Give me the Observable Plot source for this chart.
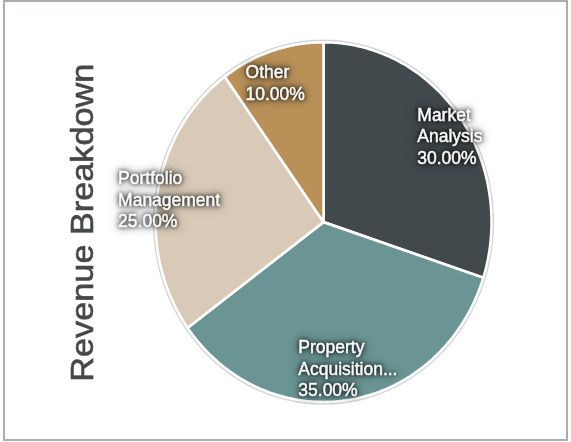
<!DOCTYPE html>
<html>
<head>
<meta charset="utf-8">
<script src="https://cdn.jsdelivr.net/npm/d3@7"></script>
<script src="https://cdn.jsdelivr.net/npm/@observablehq/plot@0.6"></script>
<style>
  html, body { margin: 0; padding: 0; background: #fff; }
  #outer { position: relative; width: 571px; height: 442px; overflow: hidden; }
  #frame { position: absolute; left: 3px; top: 0px; width: 565px; height: 441px; box-sizing: border-box; border: 2px solid #a9aeae; }
  #stretch { position: absolute; left: 0; top: 0; width: 571px; height: 413px; transform: scaleY(1.0705); transform-origin: 0 0; }
  #title { position: absolute; left: 82px; top: 207.5px; transform: translate(-50%, -50%) rotate(-90deg);
           font: 32px "Liberation Sans", Arial, sans-serif; color: #45484a; white-space: nowrap;
           -webkit-text-stroke: 0.6px #45484a; }
  #chart svg { display: block; }
  #chart g[aria-label="text"] { filter: drop-shadow(0 0 2px rgba(0,0,0,0.8)) drop-shadow(0 0 4px rgba(0,0,0,0.55)); }
</style>
</head>
<body>
<div id="outer">
  <div id="frame"></div>
  <div id="stretch">
    <div id="chart"></div>
    <div id="title"></div>
  </div>
</div>
<script>
const titleText = "Revenue Breakdown";
const categories = ["Market Analysis", "Property Acquisition", "Portfolio Management", "Other"];
const labelNames = ["Market\nAnalysis", "Property\nAcquisition...", "Portfolio\nManagement", "Other"];
const values = [30, 35, 25, 10];
const colors = ["#42494c", "#6a9594", "#d8cab6", "#b99158"];

document.getElementById("title").textContent = titleText;

const total = d3.sum(values);
const fmt = d3.format(".2%");
const arcs = d3.pie().sort(null).value(d => d)(values);

// polygon outline of each slice (angles clockwise from 12 o'clock)
const slicePts = [];
arcs.forEach((a, i) => {
  const cat = categories[i];
  slicePts.push({cat, x: 0, y: 0});
  const n = Math.max(2, Math.ceil((a.endAngle - a.startAngle) / (Math.PI / 180)));
  for (let k = 0; k <= n; k++) {
    const t = a.startAngle + (a.endAngle - a.startAngle) * k / n;
    slicePts.push({cat, x: Math.sin(t), y: Math.cos(t)});
  }
  slicePts.push({cat, x: 0, y: 0});
});
const rim = d3.range(0, 361).map(d => ({x: Math.sin(d * Math.PI / 180), y: Math.cos(d * Math.PI / 180)}));

const fontSize = 17.5;
const fontFamily = "Liberation Sans, Arial, sans-serif";
const ctx = document.createElement("canvas").getContext("2d");
ctx.font = `${fontSize}px "Liberation Sans", Arial, sans-serif`;

const labelKx = 0.93, labelKy = 0.82;
const labelMarks = arcs.map((a, i) => {
  const mid = (a.startAngle + a.endAngle) / 2;
  const text = labelNames[i] + "\n" + fmt(values[i] / total);
  const w = d3.max(text.split("\n"), s => ctx.measureText(s).width);
  return Plot.text([{x: labelKx * Math.sin(mid), y: labelKy * Math.cos(mid), text}], {
    x: "x", y: "y", text: "text", fill: "#fbfbfb", stroke: "#fbfbfb", strokeWidth: 0.45,
    fontSize, fontFamily,
    textAnchor: "start", lineAnchor: "middle", lineHeight: 1.15, dx: -w / 2
  });
});

const chart = Plot.plot({
  width: 571,
  height: 413,
  marginLeft: 155,
  marginRight: 80,
  marginTop: 39,
  marginBottom: 38,
  x: {domain: [-1, 1], axis: null},
  y: {domain: [-1, 1], axis: null},
  color: {domain: categories, range: colors},
  marks: [
    Plot.line(rim, {x: "x", y: "y", stroke: "#d2d4d4", strokeWidth: 5}),
    Plot.line(slicePts, {x: "x", y: "y", z: "cat", fill: "cat", stroke: "white", strokeWidth: 2.5, strokeLinejoin: "round"}),
    ...labelMarks
  ]
});
document.getElementById("chart").appendChild(chart);
</script>
</body>
</html>
